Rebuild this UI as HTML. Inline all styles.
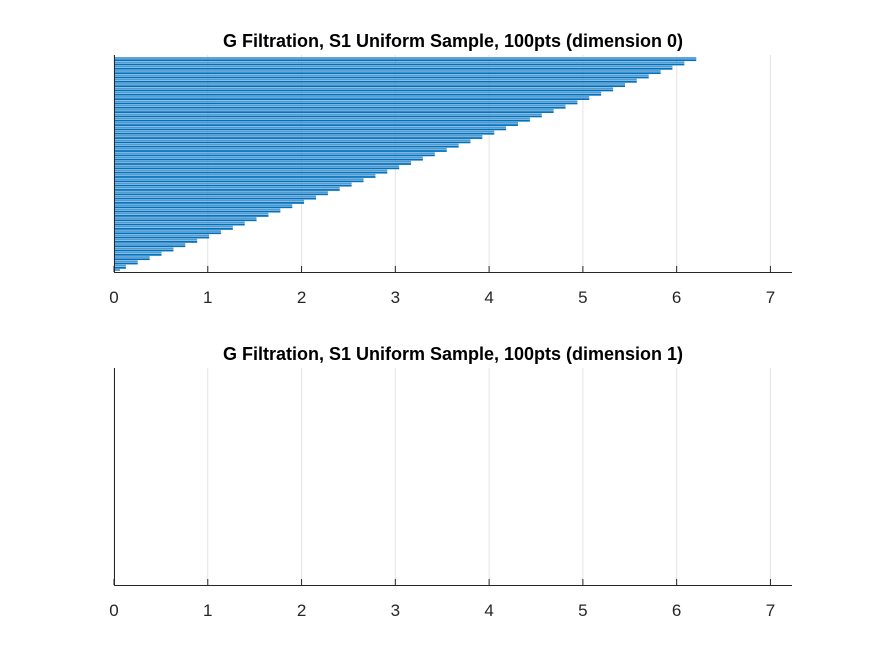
<!DOCTYPE html>
<html><head><meta charset="utf-8"><style>
body{margin:0;background:#fff;}
svg text{font-family:"Liberation Sans",Arial,sans-serif;}
</style></head><body>
<svg id="chart" width="875" height="656" xmlns="http://www.w3.org/2000/svg"></svg>
<script>
const xTicks=[0,1,2,3,4,5,6,7];
const xMax=7.23;
const titles=["G Filtration, S1 Uniform Sample, 100pts (dimension 0)","G Filtration, S1 Uniform Sample, 100pts (dimension 1)"];
const dim0Values=[0.064,
0.127,0.127,0.253,0.253,0.380,0.380,0.507,0.507,0.634,0.634,0.760,0.760,0.887,0.887,1.014,1.014,1.140,1.140,1.267,1.267,
1.394,1.394,1.520,1.520,1.647,1.647,1.774,1.774,1.901,1.901,2.027,2.027,2.154,2.154,2.281,2.281,2.407,2.407,2.534,2.534,
2.661,2.661,2.788,2.788,2.914,2.914,3.041,3.041,3.168,3.168,3.294,3.294,3.421,3.421,3.548,3.548,3.675,3.675,3.801,3.801,
3.928,3.928,4.055,4.055,4.181,4.181,4.308,4.308,4.435,4.435,4.562,4.562,4.688,4.688,4.815,4.815,4.942,4.942,5.068,5.068,
5.195,5.195,5.322,5.322,5.449,5.449,5.575,5.575,5.702,5.702,5.829,5.829,5.955,5.955,6.082,6.082,6.209,6.209];
const dim1Values=[];
const NS="http://www.w3.org/2000/svg";
const svg=document.getElementById('chart');
function mk(tag,attrs,parent){const e=document.createElementNS(NS,tag);for(const k in attrs)e.setAttribute(k,attrs[k]);(parent||svg).appendChild(e);return e;}
const panels=[{top:55,bottom:272,titleY:47,values:dim0Values},{top:368,bottom:585,titleY:360,values:dim1Values}];
const L=114,R=792;
function xs(v){return L+(v/xMax)*(R-L);}
panels.forEach((p,pi)=>{
  const g=mk('g',{});
  
  
  xTicks.forEach(t=>{
    const gl=mk('line',{x1:xs(t),x2:xs(t),y1:p.top,y2:p.bottom,stroke:'#e3e3e3','stroke-width':1},g);
    
    
  });
  const n=p.values.length;
  const h=(p.bottom-2-(p.top+3));
  const step=n>1?h/(n-1):0;
  p.values.forEach((v,i)=>{
    const y=p.bottom-2-i*step;
    const b=mk('rect',{x:L,y:y-0.9,width:xs(v)-L,height:1.8,fill:i%2?'#0072bd':'#4f9ad3'},g);
    
    
  });
  const ax=mk('line',{x1:L,x2:R,y1:p.bottom+0.5,y2:p.bottom+0.5,stroke:'#262626','stroke-width':1},g);
  
  
  const ay=mk('line',{x1:L+0.5,x2:L+0.5,y1:p.top,y2:p.bottom,stroke:'#262626','stroke-width':1},g);
  
  
  xTicks.forEach(t=>{
    mk('line',{x1:xs(t),x2:xs(t),y1:p.bottom,y2:p.bottom-6,stroke:'#262626','stroke-width':1},g);
    const tl=mk('text',{x:xs(t),y:p.bottom+31,'text-anchor':'middle','font-size':17,fill:'#262626'},g);
    tl.textContent=t;
    
    
  });
  const tt=mk('text',{x:453,y:p.titleY,'text-anchor':'middle','font-size':18,'font-weight':'bold',fill:'#000'},g);
  tt.textContent=titles[pi];
  
  
});
</script>
</body></html>
